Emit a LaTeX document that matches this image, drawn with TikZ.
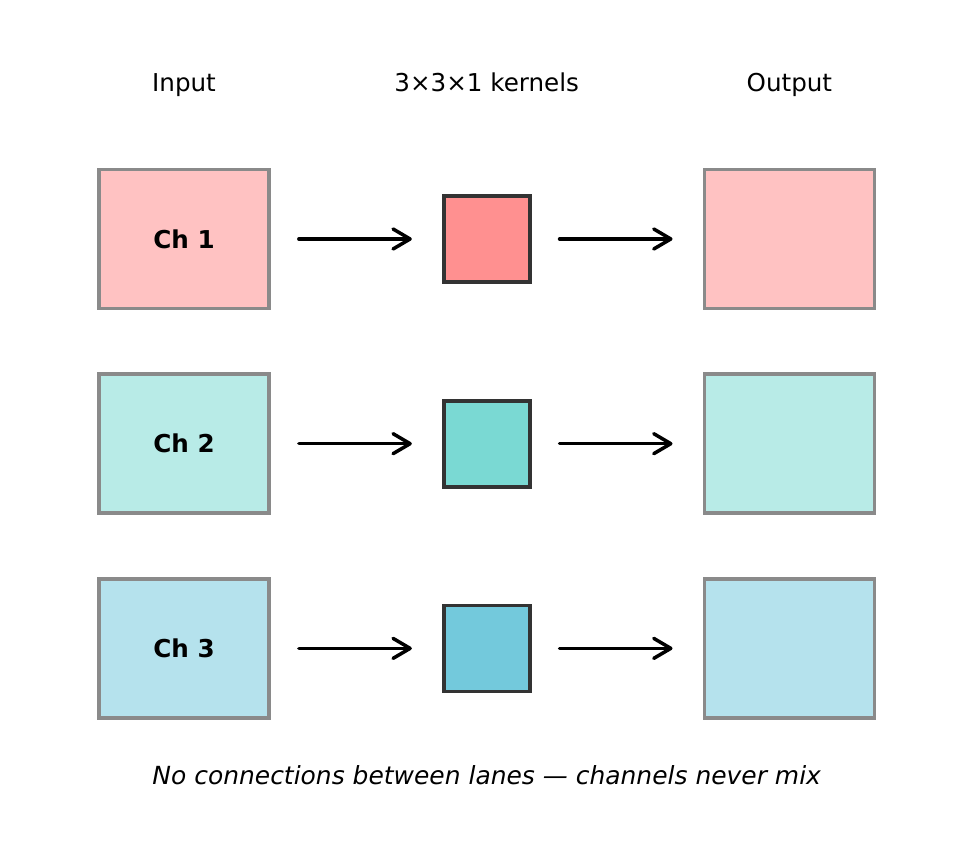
\documentclass[tikz,border=0pt]{standalone}
\usepackage{fontspec}
\setmainfont{DejaVu Sans}
\usetikzlibrary{arrows.meta, positioning}

\definecolor{redin}{HTML}{FFC2C2}
\definecolor{redk}{HTML}{FF9090}
\definecolor{tealin}{HTML}{B8EBE7}
\definecolor{tealk}{HTML}{7AD9D3}
\definecolor{bluein}{HTML}{B5E2ED}
\definecolor{bluek}{HTML}{73C9DC}
\definecolor{chanedge}{HTML}{8A8A8A}
\definecolor{kernedge}{HTML}{333333}

\begin{document}
\begin{tikzpicture}[
    font=\fontsize{14}{17}\selectfont,
    chan/.style={draw=chanedge, line width=2.1pt, minimum width=3.4cm, minimum height=2.78cm, inner sep=0pt, font=\fontsize{14}{17}\selectfont\bfseries},
    kern/.style={draw=kernedge, line width=2.1pt, minimum size=1.72cm, inner sep=0pt},
    title/.style={text height=1.5ex, text depth=.4ex},
    flow/.style={-{Straight Barb[length=3.4mm, width=4mm, round]}, line width=2pt, line cap=round, shorten <=0.56cm, shorten >=0.6cm},
    node distance=1.24cm and 3.42cm
]
\useasboundingbox (0,0) rectangle (19.3,17.12);
% channels in
\node[chan, fill=redin] (in1) at (3.68,12.34) {Ch 1};
\node[chan, fill=tealin, below=of in1] (in2) {Ch 2};
\node[chan, fill=bluein, below=of in2] (in3) {Ch 3};
% depthwise kernels
\node[kern, fill=redk, right=of in1] (k1) {};
\node[kern, fill=tealk, right=of in2] (k2) {};
\node[kern, fill=bluek, right=of in3] (k3) {};
% channels out
\node[chan, fill=redin, right=of k1] (out1) {};
\node[chan, fill=tealin, right=of k2] (out2) {};
\node[chan, fill=bluein, right=of k3] (out3) {};
% headers
\node[title, above=1.32cm of in1] (tin) {Input};
\node[title, above=1.85cm of k1] (tkern) {3×3×1 kernels};
\node[title, above=1.32cm of out1] (tout) {Output};
\draw[flow] (in1) -- (k1);
\draw[flow] (k1) -- (out1);
\draw[flow] (in2) -- (k2);
\draw[flow] (k2) -- (out2);
\draw[flow] (in3) -- (k3);
\draw[flow] (k3) -- (out3);
\node[title, below=1.42cm of k3, font=\fontsize{14.2}{17}\selectfont\itshape] (note) {No connections between lanes — channels never mix};
\end{tikzpicture}
\end{document}
